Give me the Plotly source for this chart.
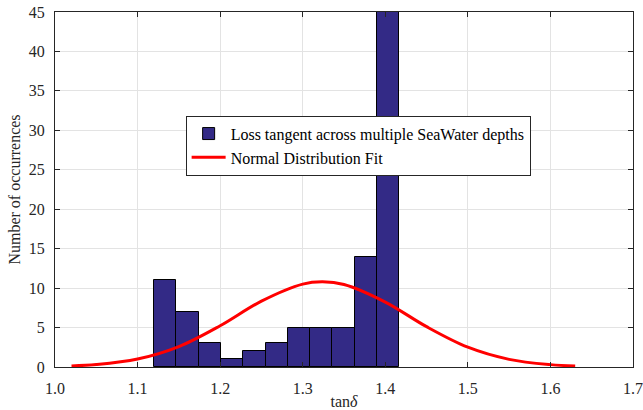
import plotly.graph_objects as go

# Histogram data
bin_start = 1.12
bin_width = 0.027
counts = [11, 7, 3, 1, 2, 3, 5, 5, 5, 14, 46]

# Normal distribution fit curve
fit_x = [1.02, 1.05, 1.10, 1.15, 1.20, 1.25, 1.30, 1.324, 1.35, 1.40, 1.45, 1.50, 1.55, 1.60, 1.63]
fit_y = [0.14, 0.31, 1.01, 2.59, 5.23, 8.35, 10.51, 10.8, 10.46, 8.23, 5.11, 2.51, 0.97, 0.30, 0.13]

x_ticks = [1.0, 1.1, 1.2, 1.3, 1.4, 1.5, 1.6, 1.7]
y_ticks = [0, 5, 10, 15, 20, 25, 30, 35, 40, 45]

centers = [bin_start + (i + 0.5) * bin_width for i in range(len(counts))]

font_family = "Liberation Serif, Times New Roman, serif"

fig = go.Figure()
fig.add_trace(go.Bar(
    x=centers, y=counts, width=bin_width,
    name="Loss tangent across multiple SeaWater depths",
    marker=dict(color="#332a86", line=dict(color="black", width=1)),
))
fig.add_trace(go.Scatter(
    x=fit_x, y=fit_y, mode="lines",
    line=dict(color="#ff0000", width=3, shape="spline"),
    name="Normal Distribution Fit",
))

axis_common = dict(
    showline=True, linecolor="#262626", linewidth=1, mirror="ticks",
    ticks="inside", ticklen=5, tickcolor="#262626",
    showgrid=True, gridcolor="#e3e3e3", gridwidth=1,
    zeroline=False, automargin=False, ticklabeloverflow="allow",
    tickfont=dict(family=font_family, size=16, color="#262626"),
)

fig.update_layout(
    width=643, height=410,
    margin=dict(l=55, r=10, t=12, b=43),
    paper_bgcolor="white", plot_bgcolor="white",
    font=dict(family=font_family, color="#262626"),
    bargap=0,
    showlegend=True,
    legend=dict(
        x=0.226, y=0.708, xanchor="left", yanchor="top",
        bgcolor="white", bordercolor="#262626", borderwidth=1,
        font=dict(family=font_family, size=16, color="black"),
        tracegroupgap=0, itemwidth=34,
    ),
    xaxis=dict(
        range=[1.0, 1.7], tickvals=x_ticks, ticktext=[f"{v:.1f}" for v in x_ticks],
        ticklabelstandoff=7,
        title=dict(text="tan<i>δ</i>", font=dict(family=font_family, size=16), standoff=0),
        **axis_common,
    ),
    yaxis=dict(
        range=[0, 45], tickvals=y_ticks,
        ticklabelstandoff=6,
        title=dict(text="Number of occurrences", font=dict(family=font_family, size=16), standoff=4),
        **axis_common,
    ),
)

fig.write_html(
    "out.html",
    config={"displayModeBar": False},
    post_script="document.body.style.margin='0';document.body.style.overflow='hidden';",
)
